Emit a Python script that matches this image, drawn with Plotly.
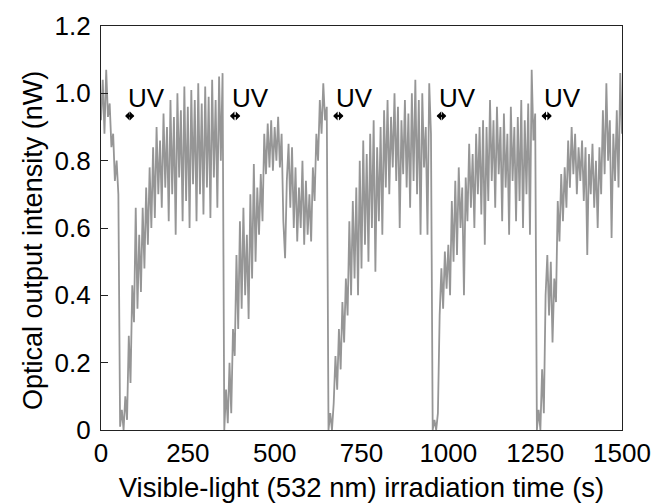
import plotly.graph_objects as go

# sampling grid of the recording (s), one reading every 5 s
time_s = list(range(0, 1501, 5))

# optical output (nW), one list per part of the run
start_0_50 = [0.92, 1.04, 0.88, 1.07, 0.93, 0.97, 0.84, 0.88, 0.74, 0.80, 0.70]

cycle_1 = [0.01, 0.06, 0.00, 0.10, 0.03, 0.28, 0.14, 0.43, 0.32, 0.66,
           0.36, 0.58, 0.41, 0.66, 0.48, 0.72, 0.55, 0.78, 0.60, 0.84,
           0.63, 0.90, 0.70, 0.86, 0.66, 0.94, 0.72, 0.90, 0.62, 0.98,
           0.70, 0.93, 0.58, 1.00, 0.75, 0.95, 0.62, 1.02, 0.68, 0.96,
           0.60, 1.01, 0.73, 0.98, 0.62, 1.03, 0.70, 0.97, 0.64, 1.02,
           0.72, 0.99, 0.63, 1.04, 0.75, 0.98, 0.66, 1.05, 0.80, 1.06]

cycle_2 = [0.00, 0.12, 0.02, 0.20, 0.05, 0.30, 0.22, 0.52, 0.30, 0.62,
           0.36, 0.66, 0.40, 0.58, 0.33, 0.70, 0.45, 0.79, 0.50, 0.72,
           0.58, 0.76, 0.62, 0.88, 0.76, 0.91, 0.78, 0.92, 0.77, 0.90,
           0.80, 0.93, 0.78, 0.88, 0.62, 0.51, 0.74, 0.85, 0.66, 0.84,
           0.60, 0.78, 0.56, 0.72, 0.60, 0.80, 0.55, 0.74, 0.58, 0.70,
           0.56, 0.78, 0.68, 0.88, 0.80, 0.98, 0.88, 1.03, 0.92, 0.96]

cycle_3 = [0.00, 0.05, 0.00, 0.08, 0.22, 0.12, 0.30, 0.18, 0.38, 0.26,
           0.45, 0.34, 0.62, 0.40, 0.68, 0.45, 0.72, 0.40, 0.80, 0.48,
           0.86, 0.55, 0.82, 0.50, 0.88, 0.60, 0.92, 0.47, 0.84, 0.62,
           0.90, 0.58, 0.95, 0.72, 0.98, 0.70, 0.93, 0.78, 1.00, 0.74,
           0.96, 0.60, 0.92, 0.76, 0.98, 0.72, 0.94, 0.66, 1.00, 0.74,
           1.04, 0.70, 0.98, 0.58, 1.00, 0.78, 0.90, 0.58, 1.03, 0.88]

cycle_4 = [0.00, 0.03, 0.00, 0.05, 0.34, 0.48, 0.36, 0.53, 0.42, 0.55,
           0.40, 0.68, 0.50, 0.74, 0.52, 0.78, 0.60, 0.72, 0.40, 0.75,
           0.62, 0.85, 0.66, 0.82, 0.60, 0.88, 0.70, 0.90, 0.64, 0.92,
           0.55, 0.90, 0.68, 0.98, 0.74, 0.92, 0.66, 0.96, 0.76, 0.90,
           0.62, 0.94, 0.72, 0.88, 0.58, 0.96, 0.74, 0.90, 0.62, 0.93,
           0.68, 0.98, 0.60, 0.92, 0.70, 0.97, 0.58, 1.07, 0.86, 0.94]

cycle_5 = [0.00, 0.06, 0.00, 0.18, 0.05, 0.40, 0.52, 0.34, 0.50, 0.26,
           0.45, 0.38, 0.68, 0.56, 0.76, 0.62, 0.78, 0.66, 0.86, 0.72,
           0.90, 0.76, 0.88, 0.70, 0.84, 0.74, 0.86, 0.68, 0.84, 0.52,
           0.82, 0.70, 0.85, 0.66, 0.80, 0.60, 0.84, 0.70, 0.95, 0.76,
           1.03, 0.80, 0.92, 0.57, 0.88, 0.74, 0.95, 0.72, 1.06, 0.88]

intensity = start_0_50 + cycle_1 + cycle_2 + cycle_3 + cycle_4 + cycle_5

# UV exposure windows (s)
uv_start = [65, 367, 664, 962, 1264]
uv_end = [96, 401, 698, 994, 1298]

y_ticks = [0, 0.2, 0.4, 0.6, 0.8, 1.0, 1.2]
y_labels = ["0", "0.2", "0.4", "0.6", "0.8", "1.0", "1.2"]
x_ticks = [0, 250, 500, 750, 1000, 1250, 1500]

font_name = "Liberation Sans, Arial, sans-serif"

fig = go.Figure()
fig.add_trace(go.Scatter(x=time_s, y=intensity, mode="lines",
                         line=dict(color="#969696", width=1.8),
                         showlegend=False))

# double arrows + "UV" labels
for s, e in zip(uv_start, uv_end):
    fig.add_annotation(x=e, y=0.933, ax=s, ay=0.933, xref="x", yref="y",
                       axref="x", ayref="y", text="", showarrow=True,
                       arrowhead=1, arrowsize=0.68, arrowwidth=2.2,
                       startarrowhead=1, startarrowsize=0.68,
                       arrowside="end+start", arrowcolor="black")
    fig.add_annotation(x=s, y=0.986, xref="x", yref="y", text="UV",
                       showarrow=False, xanchor="left", xshift=2,
                       font=dict(size=26, color="black", family=font_name))

# y title placed by hand (sits a bit below the plot centre in the original)
fig.add_annotation(x=0, y=0.5, xref="paper", yref="paper",
                   text="Optical output intensity (nW)", textangle=-90,
                   showarrow=False, xanchor="center", yanchor="middle",
                   xshift=-68, yshift=-13,
                   font=dict(size=27, color="black", family=font_name))

# the page body has an 8 px margin, so the figure is sized to fit inside it
fig.update_layout(
    width=659, height=495,
    margin=dict(l=93, r=45, t=18, b=73),
    paper_bgcolor="white", plot_bgcolor="white",
    font=dict(family=font_name, size=26, color="black"),
    xaxis=dict(range=[0, 1500], tickvals=x_ticks, ticks="",
               showline=True, linecolor="#222", linewidth=1.2, mirror=True,
               showgrid=False, zeroline=False, automargin=False,
               title=dict(text="Visible-light (532 nm) irradiation time (s)",
                          font=dict(size=27.5), standoff=10)),
    # second axis only for the short inside ticks at 500 and 1000
    xaxis2=dict(range=[0, 1500], overlaying="x", side="bottom",
                tickvals=[500, 1000], ticks="inside", ticklen=10,
                tickcolor="#222", showticklabels=False, showline=False,
                showgrid=False, zeroline=False),
    yaxis=dict(range=[0, 1.2], tickvals=y_ticks, ticktext=y_labels,
               ticks="inside", ticklen=7, tickcolor="#222",
               showline=True, linecolor="#222", linewidth=1.2, mirror=True,
               showgrid=False, zeroline=False, ticklabelstandoff=4,
               automargin=False),
)

fig.write_html("out.html")
